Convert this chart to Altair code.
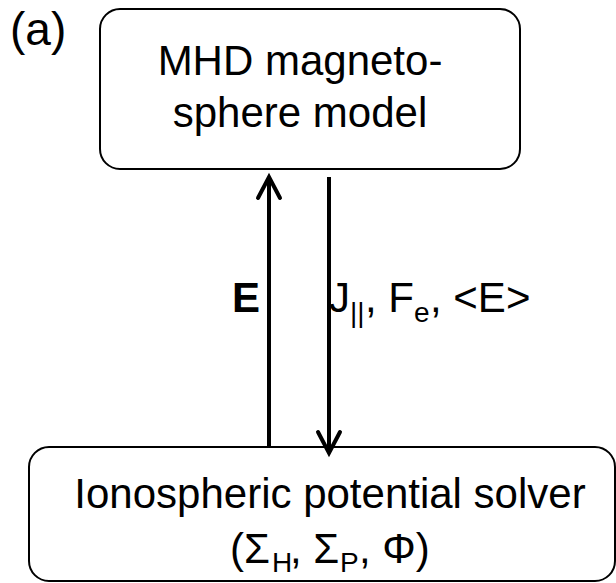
import altair as alt
import pandas as pd

W, H = 616, 583
FONT = "Liberation Sans"

# Block outlines: left, right, top, bottom (diagram coordinates, y grows downward)
box_x0 = [100, 29]
box_x1 = [520, 615]
box_y0 = [9, 447]
box_y1 = [169, 581]

# Arrow shafts
shaft_x = [269, 329]
shaft_y0 = [447, 177]
shaft_y1 = [179, 451]

# Arrow heads as chevrons (wing, tip, wing)
head_id = ["up", "up", "up", "down", "down", "down"]
head_ord = [0, 1, 2, 0, 1, 2]
head_x = [258, 269, 280, 318, 329, 340]
head_y = [198, 177, 198, 432, 453, 432]

# Text runs (main text and sub-scripts are separate runs)
run_text = ["(a)", "MHD magneto-", "sphere model",
            "Ionospheric potential solver",
            "(Σ", "H", ", Σ", "P", ", Φ)",
            "J", "||", ", F", "e", ", <E>"]
run_x = [10, 300, 300, 330,
         230, 272, 290, 340, 359,
         329, 350, 365, 414, 430]
run_y = [45, 75, 127, 508,
         563, 572, 563, 572, 563,
         312, 322, 312, 322, 312]
run_size = [46, 42, 42, 42,
            42, 28, 42, 28, 42,
            42, 28, 42, 28, 42]
run_align = ["left", "center", "center", "center",
             "left", "left", "left", "left", "left",
             "left", "left", "left", "left", "left"]

# Bold field label on the upward arrow
bold_text = ["E"]
bold_x = [232]
bold_y = [312]

xs = alt.Scale(domain=[0, W], nice=False, zero=False)
ys = alt.Scale(domain=[0, H], nice=False, zero=False, reverse=True)

boxes = pd.DataFrame({"x0": box_x0, "x1": box_x1, "y0": box_y0, "y1": box_y1})
shafts = pd.DataFrame({"x": shaft_x, "y0": shaft_y0, "y1": shaft_y1})
heads = pd.DataFrame({"id": head_id, "o": head_ord, "x": head_x, "y": head_y})
runs = pd.DataFrame({"t": run_text, "x": run_x, "y": run_y, "s": run_size, "a": run_align})
bold = pd.DataFrame({"t": bold_text, "x": bold_x, "y": bold_y})

box_layer = alt.Chart(boxes).mark_rect(
    cornerRadius=20, fill="white", stroke="black", strokeWidth=2
).encode(
    x=alt.X("x0:Q", scale=xs, axis=None),
    x2="x1:Q",
    y=alt.Y("y0:Q", scale=ys, axis=None),
    y2="y1:Q",
)

shaft_layer = alt.Chart(shafts).mark_rule(color="black", strokeWidth=4).encode(
    x=alt.X("x:Q", scale=xs, axis=None),
    y=alt.Y("y0:Q", scale=ys, axis=None),
    y2="y1:Q",
)

head_layer = alt.Chart(heads).mark_line(
    color="black", strokeWidth=4, strokeJoin="miter", strokeCap="round"
).encode(
    x=alt.X("x:Q", scale=xs, axis=None),
    y=alt.Y("y:Q", scale=ys, axis=None),
    detail="id:N",
    order="o:Q",
)


def text_layer(align):
    d = runs[runs["a"] == align]
    return alt.Chart(d).mark_text(
        font=FONT, align=align, baseline="alphabetic", color="black"
    ).encode(
        x=alt.X("x:Q", scale=xs, axis=None),
        y=alt.Y("y:Q", scale=ys, axis=None),
        size=alt.Size("s:Q", scale=None, legend=None),
        text="t:N",
    )


bold_layer = alt.Chart(bold).mark_text(
    font=FONT, fontSize=42, fontWeight="bold", align="left",
    baseline="alphabetic", color="black"
).encode(
    x=alt.X("x:Q", scale=xs, axis=None),
    y=alt.Y("y:Q", scale=ys, axis=None),
    text="t:N",
)

chart = alt.layer(
    box_layer, shaft_layer, head_layer,
    text_layer("left"), text_layer("center"), bold_layer
).properties(
    width=W, height=H, padding=0, autosize=alt.AutoSizeParams(type="none"),
    background="white"
).configure_view(stroke=None)

chart.save("out.html", embed_options={"renderer": "svg", "actions": False})
